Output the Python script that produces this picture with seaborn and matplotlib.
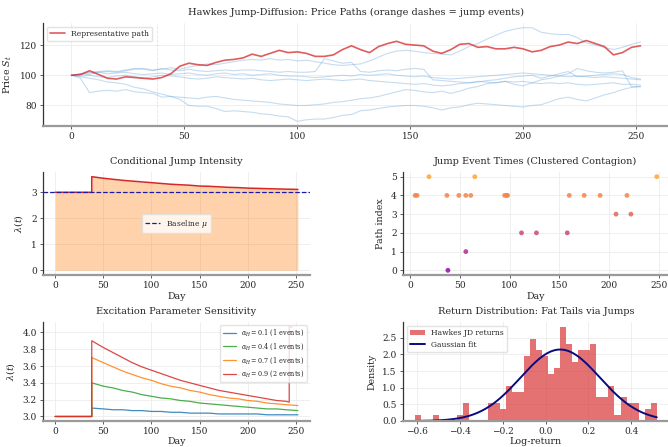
## Hawkes jump-diffusion summary figure
# price paths, intensity, jump event times, alpha sensitivity, return histogram

import numpy as np
import pandas as pd
import matplotlib
matplotlib.use("Agg")
import matplotlib.pyplot as plt
import seaborn as sns

############################# Data ################################

# price paths sampled every 4 days
path_days = list(range(0, 253, 4))

rep_path = [100, 100.5, 103, 100.5, 98, 97.5, 99, 98.5,
            98, 97.5, 98.5, 101, 106, 108, 107, 106.5,
            108.5, 110, 110.5, 111.5, 114, 112.5, 114.5, 116.5,
            115, 115.5, 114.5, 112.5, 112.5, 113.5, 117, 119.5,
            117, 115, 119, 121, 122.5, 120.5, 120, 119.5,
            116, 114.5, 117, 120.5, 121, 118.5, 119, 117.5,
            117.5, 118.5, 117.5, 115.5, 116.5, 119, 120, 122,
            121, 123, 121, 119, 113.5, 115, 118.5, 119.5]

path_b = [100, 101, 100.5, 102, 102.5, 102, 103, 104,
          104.5, 103.5, 104, 105, 104, 105.5, 106.5, 107.5,
          107, 108, 109, 110, 110.5, 110, 111, 110,
          110.5, 109.5, 110, 109, 108, 107, 106.5, 107,
          107.5, 109.5, 112, 114.5, 116, 116.5, 116, 115,
          114.5, 114, 113.5, 116, 119, 121, 124, 126.5,
          129, 130.5, 131.5, 131.5, 128.5, 127.5, 127, 127,
          125, 121.5, 120, 118.5, 117, 118.5, 120.5, 122]

path_c = [100, 98, 88.5, 89.5, 90, 89.5, 90.5, 89,
          88.5, 88, 85.5, 86, 85.5, 85, 84.5, 85.5,
          86, 85, 84, 83.5, 83, 82.5, 82, 81,
          80.5, 80, 80, 80.5, 81, 82, 82.5, 83.5,
          84.5, 85, 86, 87.5, 89, 90.5, 90, 89,
          88.5, 89.5, 88, 89.5, 91.5, 92.5, 94.5, 95,
          96, 94, 93, 95, 97, 98, 99.5, 101,
          104.5, 103, 102, 101.5, 102, 103, 92.5, 92.5]

path_d = [100, 99, 98, 97, 95.5, 95, 94, 92,
          91, 89, 87.5, 86, 84, 80, 79.5, 79.5,
          78, 76, 76.5, 76, 75.5, 74.5, 74, 73,
          72.5, 69.5, 70.5, 71, 71, 72, 73.5, 74,
          76.5, 77, 78, 79, 79.5, 80, 80, 79.5,
          78.5, 77, 78.5, 79, 80.5, 81.5, 81, 80.5,
          80, 79.5, 79, 80, 80.5, 82.5, 84.5, 85.5,
          84, 83, 85, 87, 88.5, 90.5, 92, 92.5]

path_e = [100, 100.5, 101.5, 102, 101, 101.5, 102, 101,
          100.5, 101, 101.5, 100.5, 101, 101.5, 100.5, 100,
          101, 101.5, 100.5, 101, 100, 100.5, 101, 100,
          99.5, 99.5, 99, 98.5, 99, 99.5, 100, 99.5,
          100.5, 100, 100.5, 101, 100, 99.5, 99, 99.5,
          98.5, 98, 97.5, 98, 98.5, 99, 99.5, 100,
          100.5, 101, 101.5, 101, 100.5, 100, 99.5, 99,
          99.5, 99, 98.5, 99, 98.5, 98, 97.5, 97]

path_f = [100, 101, 102, 102.5, 103, 102.5, 103.5, 104.5,
          104, 103, 104.5, 103.5, 103, 104, 103, 102.5,
          103, 103.5, 103, 103.5, 103.5, 103, 102.5, 102,
          102.5, 102, 102, 102.5, 111, 109.5, 108, 108.5,
          102.5, 102, 103, 103.5, 103, 104, 104.5, 104,
          97, 96.5, 96, 95.5, 95, 96, 95.5, 95,
          96, 95.5, 96, 95, 94.5, 95, 94.5, 95,
          94, 93.5, 94, 94.5, 95, 94, 94, 93.5]

path_g = [100, 99.5, 100, 99, 98.5, 99.5, 100, 99,
          98, 99, 100, 99.5, 99, 98, 97.5, 98,
          99, 98.5, 98, 97.5, 98, 97, 96.5, 97,
          97.5, 97, 96.5, 97, 97.5, 97, 96.5, 97,
          97.5, 96.5, 96, 95.5, 95, 94.5, 94, 94.5,
          93.5, 93, 93.5, 94.5, 95, 95.5, 96.5, 97,
          98, 99, 99.5, 100, 98, 99.5, 101, 102.5,
          99, 99.5, 100, 100.5, 101, 100.5, 98.5, 97.5]

light_paths = [path_b, path_c, path_d, path_e, path_f, path_g]
rep_jump_days = [38]

# conditional intensity of the representative path
mu_base = 3.0
int_days = [0, 38, 38, 50, 60, 70, 80, 90, 100, 110, 120, 130, 140, 150,
            160, 170, 180, 190, 200, 210, 220, 230, 240, 252]
int_vals = [3.00, 3.00, 3.60, 3.54, 3.50, 3.46, 3.43, 3.40, 3.37, 3.34, 3.31, 3.29,
            3.27, 3.24, 3.23, 3.21, 3.19, 3.18, 3.16, 3.15, 3.14, 3.13, 3.12, 3.11]

# jump event times per path
event_days = [38, 56, 112, 127, 158, 207, 222,
              5, 7, 37, 49, 56, 61, 95, 97, 98, 160, 175, 191, 218,
              19, 65, 248]
event_paths = [0, 1, 2, 2, 2, 3, 3,
               4, 4, 4, 4, 4, 4, 4, 4, 4, 4, 4, 4, 4,
               5, 5, 5]

# excitation sensitivity
sens_days = [0, 38, 38, 50, 60, 70, 80, 90, 100, 110, 120, 130, 140, 150,
             160, 170, 180, 190, 200, 210, 220, 230, 240, 252]
sens_a01 = [3.00, 3.00, 3.10, 3.09, 3.08, 3.08, 3.07, 3.07, 3.06, 3.06, 3.05, 3.05,
            3.04, 3.04, 3.04, 3.03, 3.03, 3.03, 3.03, 3.03, 3.02, 3.02, 3.02, 3.02]
sens_a04 = [3.00, 3.00, 3.40, 3.36, 3.34, 3.31, 3.29, 3.26, 3.24, 3.22, 3.21, 3.19,
            3.18, 3.16, 3.15, 3.14, 3.13, 3.12, 3.11, 3.10, 3.09, 3.09, 3.08, 3.07]
sens_a07 = [3.00, 3.00, 3.70, 3.64, 3.59, 3.54, 3.50, 3.46, 3.43, 3.39, 3.36, 3.34,
            3.31, 3.29, 3.26, 3.24, 3.22, 3.21, 3.19, 3.18, 3.16, 3.15, 3.14, 3.13]
sens_days_a09 = [0, 38, 38, 50, 60, 70, 80, 90, 100, 110, 120, 130, 140, 150,
                 160, 170, 180, 190, 200, 210, 220, 230, 240, 243, 243, 246]
sens_a09 = [3.00, 3.00, 3.90, 3.82, 3.76, 3.70, 3.64, 3.59, 3.55, 3.51, 3.47, 3.43,
            3.40, 3.37, 3.34, 3.31, 3.29, 3.27, 3.25, 3.23, 3.21, 3.19, 3.18, 3.17,
            4.07, 4.06]
sens_labels = [r"$\alpha_H = 0.1$ (1 events)", r"$\alpha_H = 0.4$ (1 events)",
               r"$\alpha_H = 0.7$ (1 events)", r"$\alpha_H = 0.9$ (2 events)"]

# return histogram (density per bin) and gaussian fit
hist_lo, hist_hi, hist_bins = -0.611, 0.520, 40
hist_density = [0.18, 0, 0, 0.18, 0, 0, 0, 0.18, 0.53, 0,
                0, 0, 0.53, 0.53, 0.35, 1.06, 0.88, 0.88, 1.94, 2.47,
                2.12, 1.94, 1.41, 1.59, 2.83, 2.30, 1.77, 2.12, 2.12, 2.30,
                0.71, 0.71, 1.06, 0.18, 0.71, 0.53, 0.53, 0, 0.35, 0.53]
gauss_mu, gauss_sigma = 0.068, 0.186

############################# Styling ################################

sns.set_style("ticks")
plt.rcParams["font.family"] = ["DejaVu Serif"]
plt.rcParams["mathtext.fontset"] = "dejavuserif"

title_fs = 7.0
label_fs = 6.8


def style_ax(ax):
    ax.grid(True, color="#ececec", lw=0.6)
    ax.set_axisbelow(True)
    sns.despine(ax=ax)
    ax.spines["left"].set_color("#333333")
    ax.spines["left"].set_linewidth(0.9)
    ax.spines["bottom"].set_color("#9a9a9a")
    ax.spines["bottom"].set_linewidth(1.6)
    ax.tick_params(labelsize=6.5, length=2.5, width=0.6, color="#444444", pad=2)


fig = plt.figure(figsize=(6.68, 4.47), dpi=100)
ax_top = fig.add_axes([0.0644, 0.7181, 0.937, 0.2304])
ax_int = fig.add_axes([0.0644, 0.3848, 0.3997, 0.2304])
ax_evt = fig.add_axes([0.6033, 0.3848, 0.398, 0.2304])
ax_sen = fig.add_axes([0.0644, 0.0582, 0.3997, 0.2215])
ax_hst = fig.add_axes([0.6033, 0.0582, 0.398, 0.2215])

############################# Price paths ################################

for vals in light_paths:
    sns.lineplot(x=path_days, y=vals, ax=ax_top, color="#5b9bd5", alpha=0.35,
                 lw=0.8, estimator=None, sort=False)
sns.lineplot(x=path_days, y=rep_path, ax=ax_top, color="#d62728", alpha=0.75,
             lw=1.2, estimator=None, sort=False, label="Representative path")
for d in rep_jump_days:
    ax_top.axvline(d, color="#ff7f0e", ls="--", lw=0.6, alpha=0.25)
ax_top.set_yticks([80, 100, 120])
ax_top.set_ylabel("Price $S_t$", fontsize=label_fs)
ax_top.set_title("Hawkes Jump-Diffusion: Price Paths (orange dashes = jump events)", fontsize=title_fs)
ax_top.legend(loc="upper left", fontsize=5.5, frameon=True, edgecolor="#dddddd")
style_ax(ax_top)

############################# Intensity ################################

ax_int.fill_between(int_days, 0, int_vals, color="#ff7f0e", alpha=0.35, lw=0)
sns.lineplot(x=int_days, y=int_vals, ax=ax_int, color="#d62728", lw=1.1,
             estimator=None, sort=False)
ax_int.axhline(mu_base, color="#1a1aa6", ls="--", lw=0.9, label=r"Baseline $\mu$")
ax_int.set_yticks([0, 1, 2, 3])
ax_int.set_xlabel("Day", fontsize=label_fs, labelpad=1.5)
ax_int.set_ylabel(r"$\lambda(t)$", fontsize=label_fs)
ax_int.set_title("Conditional Jump Intensity", fontsize=title_fs)
ax_int.legend(loc="center", fontsize=5.5, edgecolor="#dddddd")
style_ax(ax_int)

############################# Event times ################################

evt_colors = plt.cm.plasma(np.linspace(0.3, 0.8, 6))
sns.scatterplot(x=event_days, y=event_paths, hue=event_paths, palette=list(evt_colors),
                ax=ax_evt, s=12, alpha=0.85, linewidth=0, legend=False)
ax_evt.set_yticks([0, 1, 2, 3, 4, 5])
ax_evt.set_xlabel("Day", fontsize=label_fs, labelpad=1.5)
ax_evt.set_ylabel("Path index", fontsize=label_fs)
ax_evt.set_title("Jump Event Times (Clustered Contagion)", fontsize=title_fs)
style_ax(ax_evt)

############################# Sensitivity ################################

sens_series = [(sens_days, sens_a01, "#1f77b4"), (sens_days, sens_a04, "#2ca02c"),
               (sens_days, sens_a07, "#ff7f0e"), (sens_days_a09, sens_a09, "#d62728")]
for (dd, vv, col), lab in zip(sens_series, sens_labels):
    sns.lineplot(x=dd, y=vv, ax=ax_sen, color=col, lw=0.9, alpha=0.85,
                 estimator=None, sort=False, label=lab)
ax_sen.set_yticks([3.0, 3.2, 3.4, 3.6, 3.8, 4.0])
ax_sen.set_xlabel("Day", fontsize=label_fs, labelpad=0.5)
ax_sen.set_ylabel(r"$\lambda(t)$", fontsize=label_fs)
ax_sen.set_title("Excitation Parameter Sensitivity", fontsize=title_fs)
ax_sen.legend(loc="upper right", fontsize=4.7, edgecolor="#dddddd")
style_ax(ax_sen)

############################# Returns ################################

edges = np.linspace(hist_lo, hist_hi, hist_bins + 1)
hist_df = pd.DataFrame({"ret": (edges[:-1] + edges[1:]) / 2, "dens": hist_density})
sns.histplot(data=hist_df, x="ret", weights="dens", bins=list(edges), ax=ax_hst,
             color="#d62728", alpha=0.65, linewidth=0, label="Hawkes JD returns")
gx = np.linspace(-0.6, hist_hi, 200)
gy = np.exp(-0.5 * ((gx - gauss_mu) / gauss_sigma) ** 2) / (gauss_sigma * np.sqrt(2 * np.pi))
sns.lineplot(x=gx, y=gy, ax=ax_hst, color="#0a0a80", lw=1.4, label="Gaussian fit")
ax_hst.set_xticks([-0.6, -0.4, -0.2, 0.0, 0.2, 0.4])
ax_hst.set_yticks([0.0, 0.5, 1.0, 1.5, 2.0, 2.5])
ax_hst.set_xlabel("Log-return", fontsize=label_fs, labelpad=0.5)
ax_hst.set_ylabel("Density", fontsize=label_fs)
ax_hst.set_title("Return Distribution: Fat Tails via Jumps", fontsize=title_fs)
handles, labels = ax_hst.get_legend_handles_labels()
ax_hst.legend(handles[::-1], labels[::-1], loc="upper left", fontsize=5.5, edgecolor="#dddddd")
style_ax(ax_hst)

fig.savefig("out.png", dpi=100)
plt.close(fig)
